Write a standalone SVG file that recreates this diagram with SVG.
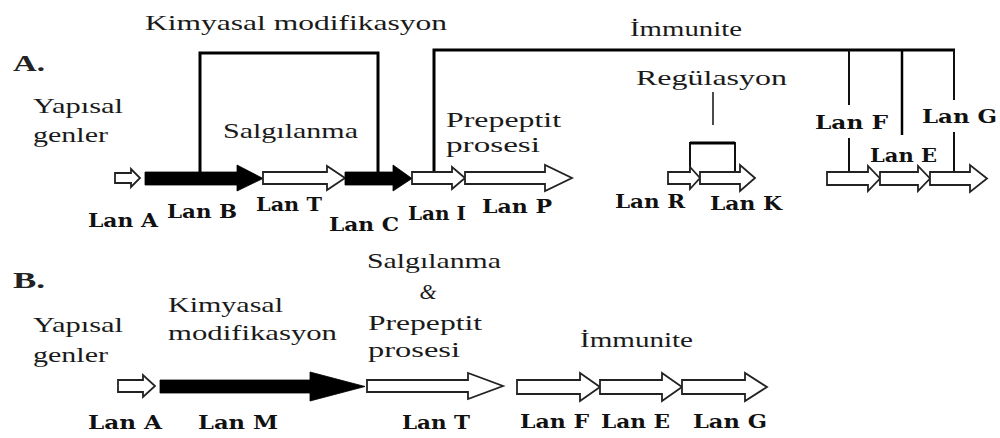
<svg xmlns="http://www.w3.org/2000/svg" width="1000" height="438" viewBox="0 0 1000 438">
<style>
.t{font-family:"Liberation Serif","Times New Roman",serif;font-size:22px;fill:#1a1a1a}
.b{font-family:"DejaVu Serif","Liberation Serif",serif;font-size:18px;font-weight:bold;fill:#111}
.s{font-family:"Liberation Serif","Times New Roman",serif;font-size:24px;font-weight:bold;fill:#222}
.h{fill:#fff;stroke:#222;stroke-width:1.8;stroke-linejoin:miter}
.k{fill:#000;stroke:#000;stroke-width:0.8}
.ln{fill:none;stroke:#000;stroke-width:3}
.ln2{fill:none;stroke:#111;stroke-width:2}
.ln1{fill:none;stroke:#111;stroke-width:1.5}
</style>
<rect width="1000" height="438" fill="#fff"/>

<g id="labelA"><text class="s" x="13" y="71" textLength="32" lengthAdjust="spacingAndGlyphs">A.</text></g>
<g id="labelB"><text class="s" x="13" y="288" textLength="32" lengthAdjust="spacingAndGlyphs">B.</text></g>

<g id="connectors">
<path class="ln" d="M200,172 V53 H378 V172"/>
<path class="ln" d="M434,173 V50 H955"/>
<path class="ln2" d="M954,50 V100 M954,132 V172"/>
<path class="ln2" d="M849,50 V105 M849,138 V173"/>
<path class="ln" d="M902,50 V135" style="stroke-width:2.5"/>
<path class="ln1" d="M713,92 V125"/>
<path class="ln2" d="M690,172 V143 H735 V171"/>
<path class="ln" d="M690,143 H735"/>
</g>

<g id="fnA">
<text class="t" x="145" y="30" textLength="302" lengthAdjust="spacingAndGlyphs">Kimyasal  modifikasyon</text>
<text class="t" x="33" y="113" textLength="90" lengthAdjust="spacingAndGlyphs">Yapısal</text>
<text class="t" x="33" y="142" textLength="75" lengthAdjust="spacingAndGlyphs">genler</text>
<text class="t" x="223" y="138" textLength="135" lengthAdjust="spacingAndGlyphs">Salgılanma</text>
<text class="t" x="446" y="127" textLength="115" lengthAdjust="spacingAndGlyphs">Prepeptit</text>
<text class="t" x="446" y="152" textLength="94" lengthAdjust="spacingAndGlyphs">prosesi</text>
<text class="t" x="630" y="36" textLength="112" lengthAdjust="spacingAndGlyphs">İmmunite</text>
<text class="t" x="636" y="85" textLength="151" lengthAdjust="spacingAndGlyphs">Regülasyon</text>
</g>

<g id="A_lanA"><polygon class="h" points="115,173 131,173 131,169 140,178 131,187 131,183 115,183"/><text class="b" x="88" y="227" textLength="70" lengthAdjust="spacingAndGlyphs">Lan A</text></g>
<g id="A_lanB"><polygon class="k" points="145,172 237,172 237,165 263,178.5 237,191 237,185 145,185"/><text class="b" x="167" y="218" textLength="70" lengthAdjust="spacingAndGlyphs">Lan B</text></g>
<g id="A_lanT"><polygon class="h" points="263,172 327,172 327,166 345,178 327,190 327,184 263,184"/><text class="b" x="256" y="211" textLength="66" lengthAdjust="spacingAndGlyphs">Lan T</text></g>
<g id="A_lanC"><polygon class="k" points="345,172 393,172 393,165 412,178.5 393,191 393,185 345,185"/><text class="b" x="329" y="231" textLength="70" lengthAdjust="spacingAndGlyphs">Lan C</text></g>
<g id="A_lanI"><polygon class="h" points="412,172 452,172 452,167 465,178 452,189 452,184 412,184"/><text class="b" x="408" y="220" textLength="58" lengthAdjust="spacingAndGlyphs">Lan I</text></g>
<g id="A_lanP"><polygon class="h" points="465,172 545,172 545,165 572,178 545,191 545,184 465,184"/><text class="b" x="482" y="213" textLength="70" lengthAdjust="spacingAndGlyphs">Lan P</text></g>
<g id="A_lanR"><polygon class="h" points="668,172 690,172 690,167 700,178 690,189 690,184 668,184"/><text class="b" x="615" y="208" textLength="70" lengthAdjust="spacingAndGlyphs">Lan R</text></g>
<g id="A_lanK"><polygon class="h" points="700,172 740,172 740,165 755,178 740,191 740,184 700,184"/><text class="b" x="710" y="210" textLength="72" lengthAdjust="spacingAndGlyphs">Lan K</text></g>
<g id="A_lanF"><polygon class="h" points="827,172 868,172 868,166 880,178.5 868,191 868,185 827,185"/><text class="b" x="815" y="129" textLength="73" lengthAdjust="spacingAndGlyphs">Lan F</text></g>
<g id="A_lanE"><polygon class="h" points="880,172 918,172 918,166 930,178.5 918,191 918,185 880,185"/><text class="b" x="870" y="162" textLength="67" lengthAdjust="spacingAndGlyphs">Lan E</text></g>
<g id="A_lanG"><polygon class="h" points="930,172 970,172 970,165 987,178.5 970,192 970,185 930,185"/><text class="b" x="922" y="123" textLength="75" lengthAdjust="spacingAndGlyphs">Lan G</text></g>

<g id="fnB">
<text class="t" x="33" y="332" textLength="90" lengthAdjust="spacingAndGlyphs">Yapısal</text>
<text class="t" x="33" y="362" textLength="75" lengthAdjust="spacingAndGlyphs">genler</text>
<text class="t" x="168" y="312" textLength="115" lengthAdjust="spacingAndGlyphs">Kimyasal</text>
<text class="t" x="168" y="340" textLength="169" lengthAdjust="spacingAndGlyphs">modifikasyon</text>
<text class="t" x="367" y="268" textLength="134" lengthAdjust="spacingAndGlyphs">Salgılanma</text>
<text class="t" x="428" y="299" text-anchor="middle" font-style="italic">&amp;</text>
<text class="t" x="368" y="330" textLength="114" lengthAdjust="spacingAndGlyphs">Prepeptit</text>
<text class="t" x="368" y="357" textLength="92" lengthAdjust="spacingAndGlyphs">prosesi</text>
<text class="t" x="580" y="347" textLength="113" lengthAdjust="spacingAndGlyphs">İmmunite</text>
</g>

<g id="B_lanA"><polygon class="h" points="118,380 143,380 143,375 155,386 143,397 143,392 118,392"/><text class="b" x="88" y="429" textLength="74" lengthAdjust="spacingAndGlyphs">Lan A</text></g>
<g id="B_lanM"><polygon class="k" points="160,380 310,380 310,372 365,386.5 310,401 310,393 160,393"/><text class="b" x="198" y="429" textLength="80" lengthAdjust="spacingAndGlyphs">Lan M</text></g>
<g id="B_lanT"><polygon class="h" points="367,380 468,380 468,373 503,386 468,399 468,392 367,392"/><text class="b" x="402" y="429" textLength="68" lengthAdjust="spacingAndGlyphs">Lan T</text></g>
<g id="B_lanF"><polygon class="h" points="517,380 580,380 580,373 600,387 580,401 580,394 517,394"/><text class="b" x="520" y="428" textLength="69" lengthAdjust="spacingAndGlyphs">Lan F</text></g>
<g id="B_lanE"><polygon class="h" points="600,380 662,380 662,373 682,387 662,401 662,394 600,394"/><text class="b" x="601" y="428" textLength="69" lengthAdjust="spacingAndGlyphs">Lan E</text></g>
<g id="B_lanG"><polygon class="h" points="682,380 745,380 745,373 767,387 745,401 745,394 682,394"/><text class="b" x="693" y="428" textLength="74" lengthAdjust="spacingAndGlyphs">Lan G</text></g>
</svg>
